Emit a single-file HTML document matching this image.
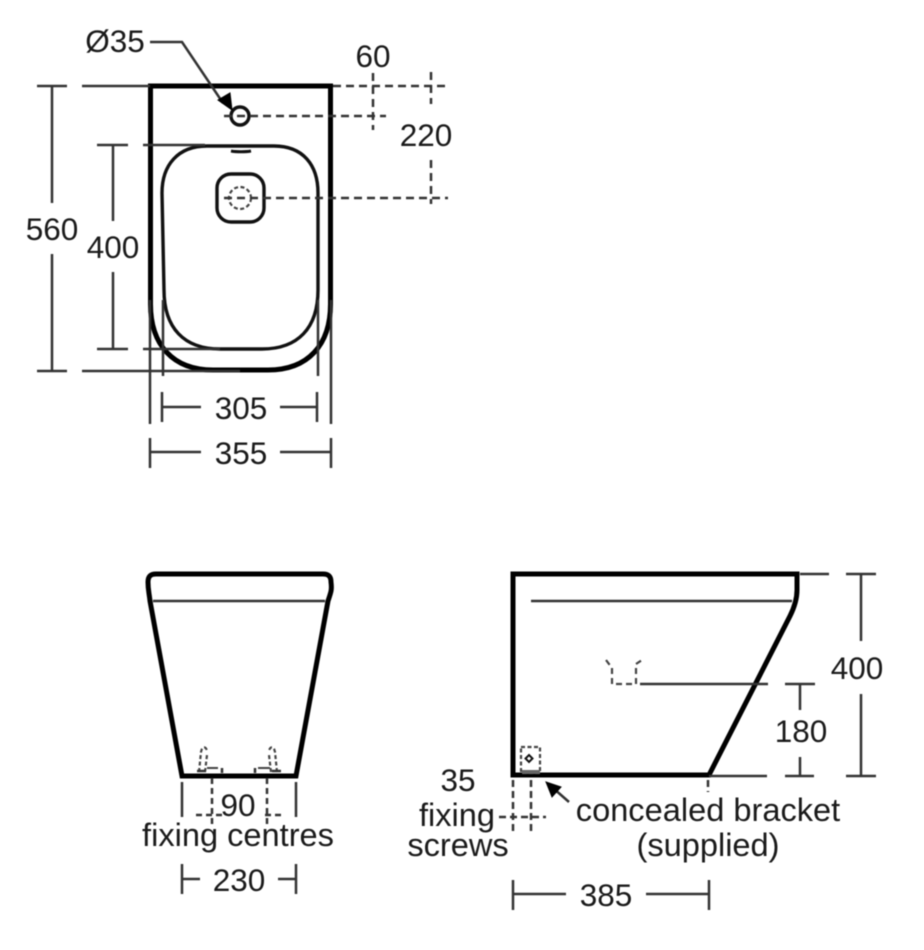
<!DOCTYPE html>
<html><head><meta charset="utf-8">
<style>
html,body{margin:0;padding:0;background:#fff;width:924px;height:950px;overflow:hidden}
svg{display:block;filter:blur(.55px)}
text{font-family:"Liberation Sans",sans-serif;font-size:31.5px;fill:#1a1a1a;text-anchor:middle}
.l{font-size:32.6px}
.o{fill:none;stroke:#000;stroke-width:5}
.b{fill:none;stroke:#111;stroke-width:3.4}
.t{fill:none;stroke:#333;stroke-width:2.5}
.d{fill:none;stroke:#333;stroke-width:2.5;stroke-dasharray:8 5}
.s{fill:none;stroke:#444;stroke-width:2.2;stroke-dasharray:4 2.5}
</style></head><body>
<svg width="924" height="950" viewBox="0 0 924 950" xmlns="http://www.w3.org/2000/svg">
<!-- plan view -->
<path class="o" d="M150.500 86H330.500V304C330.500 345 308 370 268 370H213C173 370 150.500 345 150.500 304Z"/>
<path class="b" d="M207 146H274C303 146 318 165 318 193V290C318 328 298 349 262 349H220C184 349 164 328 164 290L162 193C162 165 178 146 207 146Z"/>
<path d="M231 151C236 152 246 152 251 151" stroke="#111" stroke-width="3" fill="none"/>
<circle class="b" cx="240" cy="116" r="9"/>
<rect class="b" x="217" y="174" width="47" height="48" rx="14"/>
<circle class="s" cx="240" cy="198" r="11"/>
<!-- plan dims -->
<path class="t" d="M37 86H67M52 86V203M52 254V371M37 371H67M82 86H150M82 371H240"/>
<path class="t" d="M97 145H128M113 145V221M113 272V349M97 349H128M143 145H205M143 349H220"/>
<path class="t" d="M150 300V424M163 300V376M318 300V376M331 300V424"/>
<path class="t" d="M162 392V422M163 407H201M280 407H318M317 392V422"/>
<path class="t" d="M150 438V468M150 452H201M280 452H331M331 438V468"/>
<path class="d" d="M333 86H448M224 116H386M373 73V130M431 72V104M431 160V204M224 198H448"/>
<path class="t" d="M150 42H182L223 103"/>
<path d="M232 110L218 100L230 93Z" fill="#000" stroke="#000"/>
<text x="115" y="52">Ø35</text>
<text x="373" y="67">60</text>
<text x="426" y="146">220</text>
<text x="52" y="240">560</text>
<text x="113" y="258">400</text>
<text x="241" y="419">305</text>
<text x="241" y="464">355</text>
<!-- front view -->
<path class="o" d="M182 776H296L328 601C331 592 332 590 331 582C331 576 328 574 323 574H156C151 574 148 576 148 582C148 590 149 592 150 601Z"/>
<path class="t" d="M153 601H325"/>
<path class="s" d="M199 772L201 752C202 746 206 746 207 751M205 772L207 755M277 772L275 752C274 746 270 746 269 751M271 772L269 755"/>
<path d="M207 768H218M258 768H270" stroke="#444" stroke-width="2"/>
<path d="M197 771H206M222 768V773M255 768V773M272 771H281" stroke="#333" stroke-width="2.500"/>
<path class="t" d="M182 782V817M296 782V817M182 864V894M182 879H200M278 879H296M296 864V894"/>
<path class="d" d="M212 778V828M267 778V828M196 815H225M265 815H284" style="stroke-dasharray:6 4"/>
<text x="238" y="816">90</text>
<text class="l" x="238" y="846">fixing centres</text>
<text x="239" y="891">230</text>
<!-- side view -->
<path class="o" d="M513 775V574H797V590C797 600 794 608 790 616L709 775Z"/>
<path class="t" d="M531 601H792M640 684H768M709 776H767M800 574H829M846 574H876M861 574V641M861 694V776M846 776H876M785 684H815M800 684V710M785 776H814M800 757V776"/>
<path class="s" d="M606 660L612 668V684H636V664L642 660" style="stroke-dasharray:6 4"/>
<rect class="s" x="521" y="747" width="19" height="26"/>
<path d="M529 755L532.500 758.500L529 762L525.500 758.500Z" fill="#fff" stroke="#111" stroke-width="2"/>
<path d="M522 772H540" stroke="#666" stroke-width="4"/>
<path class="d" d="M513 780V834M531 780V834M499 817H546M708 780V792" style="stroke-dasharray:7 4"/>
<path class="t" d="M569 802L553 788"/>
<path d="M546 782L561 787L552 797Z" fill="#000" stroke="#000"/>
<text x="458" y="791">35</text>
<text class="l" x="457" y="826">fixing</text>
<text class="l" x="458" y="856">screws</text>
<text class="l" x="708" y="821">concealed bracket</text>
<text class="l" x="708" y="856">(supplied)</text>
<text x="606" y="906">385</text>
<path class="t" d="M513 880V910M513 894H566M646 894H709M709 880V910"/>
<text x="857" y="679">400</text>
<text x="801" y="742">180</text>
</svg>
</body></html>
